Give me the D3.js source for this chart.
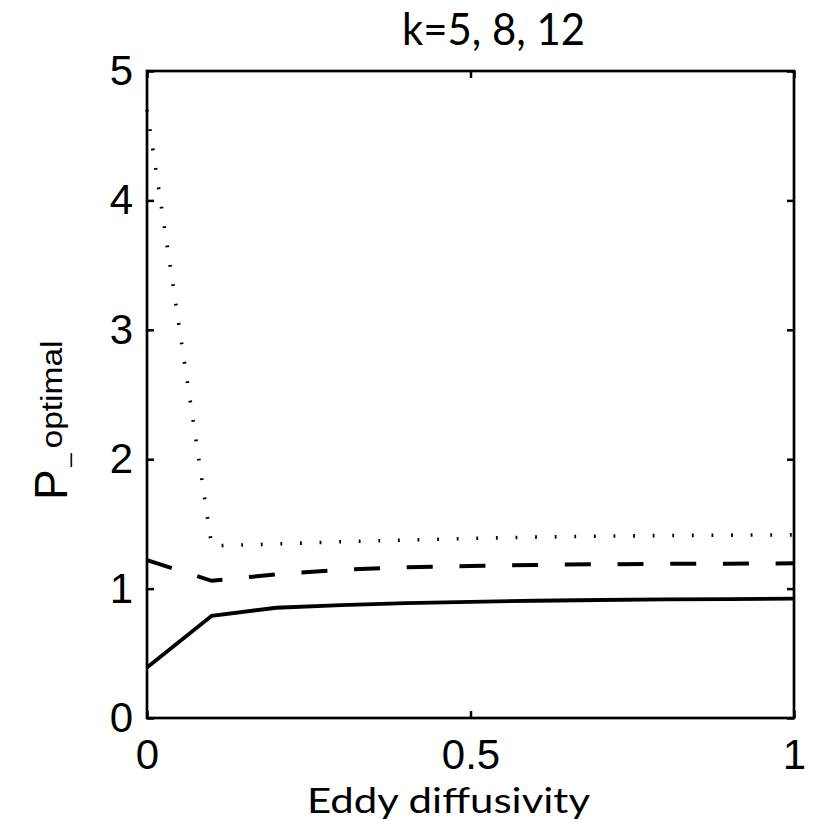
<!DOCTYPE html>
<html>
<head>
<meta charset="utf-8">
<script src="https://cdn.jsdelivr.net/npm/d3@7"></script>
<style>
  html, body { margin: 0; padding: 0; background: #fff; }
  svg { display: block; }
</style>
</head>
<body>
<svg id="chart" width="816" height="820"></svg>
<script>
// ---- data ----
const eddy = [0, 0.1, 0.2, 0.3, 0.4, 0.5, 0.6, 0.7, 0.8, 0.9, 1.0];
const k5  = [0.39, 0.79, 0.852, 0.873, 0.888, 0.898, 0.906, 0.912, 0.916, 0.919, 0.922];
const k8  = [1.22, 1.06, 1.11, 1.145, 1.165, 1.175, 1.183, 1.188, 1.191, 1.193, 1.195];
const k12 = [4.70, 1.33, 1.345, 1.362, 1.375, 1.388, 1.398, 1.405, 1.41, 1.413, 1.415];
const xTicks = [0, 0.5, 1];
const xTickLabels = ["0", "0.5", "1"];
const yTicks = [0, 1, 2, 3, 4, 5];
const titleText = "k=5, 8, 12";
const xLabelText = "Eddy diffusivity";

// ---- layout ----
const L = 147, R = 794, T = 71, B = 718;
const svg = d3.select("#chart");
const x = d3.scaleLinear().domain([0, 1]).range([L, R]);
const y = d3.scaleLinear().domain([0, 5]).range([B, T]);

const tickFont = "'Liberation Sans', Arial, Helvetica, sans-serif";
const labelFont = "Lato, 'Open Sans', sans-serif";

// axes
const gx = svg.append("g").attr("transform", `translate(0,${B})`)
  .call(d3.axisBottom(x).tickValues(xTicks).tickFormat((d, i) => xTickLabels[i])
    .tickSizeInner(-7).tickSizeOuter(0).tickPadding(21));
const gxt = svg.append("g").attr("transform", `translate(0,${T})`)
  .call(d3.axisTop(x).tickValues(xTicks).tickFormat("")
    .tickSizeInner(-7).tickSizeOuter(0));
const gy = svg.append("g").attr("transform", `translate(${L},0)`)
  .call(d3.axisLeft(y).tickValues(yTicks).tickFormat(d3.format("d"))
    .tickSizeInner(-7).tickSizeOuter(0).tickPadding(14));
const gyr = svg.append("g").attr("transform", `translate(${R},0)`)
  .call(d3.axisRight(y).tickValues(yTicks).tickFormat("")
    .tickSizeInner(-7).tickSizeOuter(0));

[gx, gxt, gy, gyr].forEach(g => {
  g.select(".domain").remove();
  g.selectAll(".tick line").attr("stroke", "#000").attr("stroke-width", 2.5);
  g.selectAll(".tick text").attr("fill", "#000")
    .style("font-family", tickFont).style("font-size", "42px");
});

// box
svg.append("rect").attr("x", L).attr("y", T).attr("width", R - L).attr("height", B - T)
  .attr("fill", "none").attr("stroke", "#000").attr("stroke-width", 2.7);

// lines
const line = d3.line().x((d, i) => x(eddy[i])).y(d => y(d));
svg.append("path").datum(k5).attr("d", line)
  .attr("fill", "none").attr("stroke", "#000").attr("stroke-width", 3.8)
  .attr("stroke-linejoin", "miter");
svg.append("path").datum(k8).attr("d", line)
  .attr("fill", "none").attr("stroke", "#000").attr("stroke-width", 4)
  .attr("stroke-dasharray", "26,26.7");
svg.append("path").datum(k12).attr("d", line)
  .attr("fill", "none").attr("stroke", "#000").attr("stroke-width", 3.6)
  .attr("stroke-dasharray", "1.8,17.8");

// title
svg.append("text").attr("x", 402).attr("y", 45)
  .attr("textLength", 183).attr("lengthAdjust", "spacingAndGlyphs")
  .style("font-family", labelFont).style("font-size", "45px").attr("fill", "#000")
  .text(titleText);

// x label
svg.append("text").attr("x", 307).attr("y", 812.5)
  .attr("textLength", 283).attr("lengthAdjust", "spacingAndGlyphs")
  .style("font-family", labelFont).style("font-size", "34.5px").attr("fill", "#000")
  .text(xLabelText);

// y label
const yl = svg.append("text").attr("transform", "translate(66.7,500) rotate(-90)")
  .attr("fill", "#000");
yl.append("tspan").style("font-family", tickFont).style("font-size", "46px").text("P");
yl.append("tspan").style("font-family", tickFont).style("font-size", "24px")
  .attr("dx", 2.5).text("_");
yl.append("tspan").style("font-family", tickFont).style("font-size", "30px")
  .attr("dx", 5).attr("dy", -5)
  .attr("textLength", 108).attr("lengthAdjust", "spacingAndGlyphs").text("optimal");
</script>
</body>
</html>
